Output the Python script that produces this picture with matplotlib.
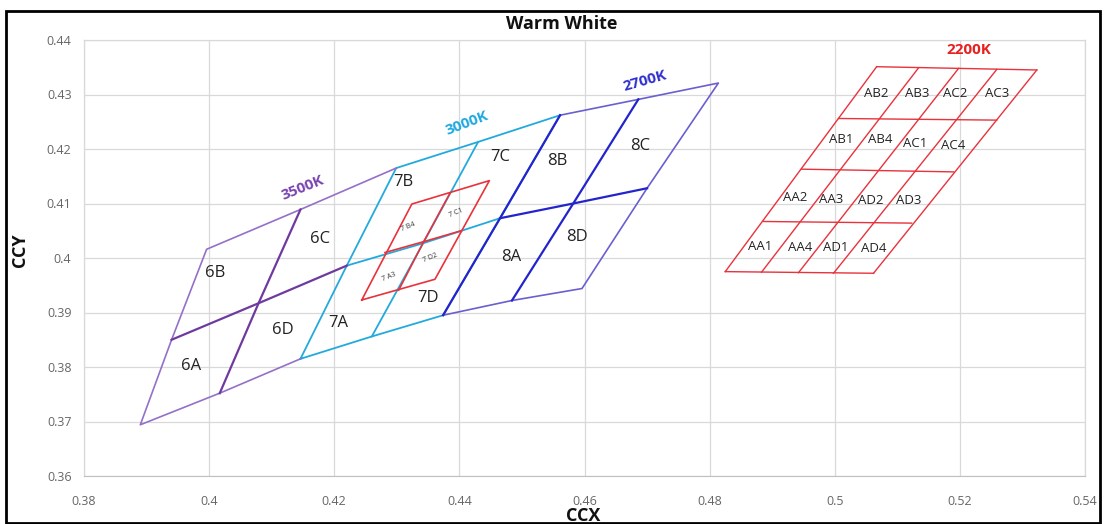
import matplotlib.pyplot as plt
import matplotlib.patches as patches

# ---- data (CIE x / y) ----
# 3500K block: outer edge (without the side shared with 3000K) and the two inner lines
k3500_edge_x = [0.4146, 0.4017, 0.3890, 0.3940, 0.3996, 0.4146, 0.4299]
k3500_edge_y = [0.3815, 0.3752, 0.3694, 0.3850, 0.4016, 0.4089, 0.4165]
k3500_h_x = [0.3940, 0.4079, 0.4220]
k3500_h_y = [0.3850, 0.3917, 0.3986]
k3500_v_x = [0.4146, 0.4079, 0.4017]
k3500_v_y = [0.4089, 0.3917, 0.3752]

# 3000K block
k3000_edge_x = [0.4146, 0.4260, 0.4374, 0.4465, 0.4561, 0.4430, 0.4299, 0.4220, 0.4146]
k3000_edge_y = [0.3815, 0.3856, 0.3895, 0.4073, 0.4262, 0.4213, 0.4165, 0.3986, 0.3815]
k3000_h_x = [0.4220, 0.4342, 0.4465]
k3000_h_y = [0.3986, 0.4027, 0.4073]
k3000_v_x = [0.4430, 0.4342, 0.4260]
k3000_v_y = [0.4213, 0.4027, 0.3856]

# 2700K block
k2700_edge_x = [0.4374, 0.4484, 0.4596, 0.4700, 0.4814, 0.4686, 0.4561]
k2700_edge_y = [0.3895, 0.3922, 0.3944, 0.4128, 0.4321, 0.4291, 0.4262]
k2700_left_x = [0.4374, 0.4465, 0.4561]
k2700_left_y = [0.3895, 0.4073, 0.4262]
k2700_h_x = [0.4465, 0.4582, 0.4700]
k2700_h_y = [0.4073, 0.4100, 0.4128]
k2700_v_x = [0.4686, 0.4582, 0.4484]
k2700_v_y = [0.4291, 0.4100, 0.3922]

# small red sub-bins inside 3000K
red7_edge_x = [0.4244, 0.4324, 0.4448, 0.4361, 0.4244]
red7_edge_y = [0.3923, 0.4099, 0.4142, 0.3961, 0.3923]
red7_h_x = [0.4281, 0.4343, 0.4403]
red7_h_y = [0.4010, 0.4030, 0.4050]
red7_v_x = [0.4385, 0.4343, 0.4303]
red7_v_y = [0.4119, 0.4030, 0.3941]

# 2200K grid: row lines (left/right ends) and slanted column lines (top/bottom ends)
k2200_row_lx = [0.5067, 0.5006, 0.4947, 0.4886, 0.4825]
k2200_row_ly = [0.4351, 0.4256, 0.4163, 0.4067, 0.3975]
k2200_row_rx = [0.5323, 0.5259, 0.5190, 0.5123, 0.5062]
k2200_row_ry = [0.4345, 0.4253, 0.4158, 0.4064, 0.3972]
k2200_col_tx = [0.5067, 0.5134, 0.5198, 0.5259, 0.5323]
k2200_col_ty = [0.4351, 0.4349, 0.4348, 0.4346, 0.4345]
k2200_col_bx = [0.4825, 0.4883, 0.4942, 0.4998, 0.5062]
k2200_col_by = [0.3975, 0.3974, 0.3973, 0.3972, 0.3972]

# bin labels
bin_names = ['6A', '6B', '6C', '6D', '7A', '7B', '7C', '7D', '8A', '8B', '8C', '8D']
bin_x = [0.3971, 0.4009, 0.4177, 0.4117, 0.4206, 0.4310, 0.4465, 0.4350, 0.4483, 0.4556, 0.4689, 0.4588]
bin_y = [0.3802, 0.3973, 0.4035, 0.3868, 0.3881, 0.4139, 0.4185, 0.3927, 0.4002, 0.4178, 0.4206, 0.4039]

sub_names = ['7 B4', '7 C1', '7 A3', '7 D2']
sub_x = [0.4318, 0.4395, 0.4288, 0.4353]
sub_y = [0.4057, 0.4083, 0.3965, 0.4000]

w22_names = ['AB2', 'AB3', 'AC2', 'AC3', 'AB1', 'AB4', 'AC1', 'AC4',
             'AA2', 'AA3', 'AD2', 'AD3', 'AA1', 'AA4', 'AD1', 'AD4']
w22_x = [0.5067, 0.5131, 0.5193, 0.5259, 0.5011, 0.5072, 0.5129, 0.5190,
         0.4937, 0.4995, 0.5058, 0.5118, 0.4881, 0.4945, 0.5001, 0.5063]
w22_y = [0.4302, 0.4302, 0.4301, 0.4301, 0.4218, 0.4217, 0.4211, 0.4207,
         0.4111, 0.4108, 0.4106, 0.4105, 0.4022, 0.4020, 0.4020, 0.4018]

cct_names = ['3500K', '3000K', '2700K', '2200K']
cct_x = [0.4150, 0.4412, 0.4697, 0.5214]
cct_y = [0.4128, 0.4247, 0.4324, 0.4382]
cct_rot = [22, 21, 16, 0]

xticks = [0.38, 0.4, 0.42, 0.44, 0.46, 0.48, 0.5, 0.52, 0.54]
yticks = [0.36, 0.37, 0.38, 0.39, 0.4, 0.41, 0.42, 0.43, 0.44]

# ---- colours ----
c3500_out = '#9470c8'
c3500_in = '#6f3a9f'
c3000 = '#22aadd'
c2700_out = '#6a5fd0'
c2700_in = '#2424cc'
cred = '#e8323c'
cct_colors = ['#7a45b0', '#1fa9e0', '#3030d0', '#e82020']

plt.rcParams['font.family'] = ['Open Sans', 'DejaVu Sans']

fig = plt.figure(figsize=(11.07, 5.24), dpi=100)
ax = fig.add_axes([84 / 1107, 48 / 524, 1001 / 1107, 436 / 524])

ax.set_xlim(0.38, 0.54)
ax.set_ylim(0.36, 0.44)
ax.set_xticks(xticks)
ax.set_yticks(yticks)
ax.set_xticklabels([f"{v:g}" for v in xticks])
ax.set_yticklabels([f"{v:g}" for v in yticks])
ax.tick_params(axis='x', length=0, pad=14, labelsize=9, colors='#666666')
ax.tick_params(axis='y', length=0, pad=9, labelsize=9, colors='#666666')
ax.grid(True, color='#d9d9d9', linewidth=0.9)
ax.set_axisbelow(True)
for side in ['top', 'right', 'left']:
    ax.spines[side].set_color('#d9d9d9')
    ax.spines[side].set_linewidth(0.9)
ax.spines['bottom'].set_color('#bfbfbf')

# 3000K first so the blue / purple lines sit on top where they meet
ax.plot(k3000_edge_x, k3000_edge_y, color=c3000, lw=1.3)
ax.plot(k3000_h_x, k3000_h_y, color=c3000, lw=1.3)
ax.plot(k3000_v_x, k3000_v_y, color=c3000, lw=1.3)

ax.plot(k3500_edge_x, k3500_edge_y, color=c3500_out, lw=1.2)
ax.plot(k3500_h_x, k3500_h_y, color=c3500_in, lw=1.6)
ax.plot(k3500_v_x, k3500_v_y, color=c3500_in, lw=1.6)

ax.plot(k2700_edge_x, k2700_edge_y, color=c2700_out, lw=1.2)
ax.plot(k2700_left_x, k2700_left_y, color=c2700_in, lw=1.6)
ax.plot(k2700_h_x, k2700_h_y, color=c2700_in, lw=1.6)
ax.plot(k2700_v_x, k2700_v_y, color=c2700_in, lw=1.6)

ax.plot(red7_edge_x, red7_edge_y, color=cred, lw=1.2)
ax.plot(red7_h_x, red7_h_y, color=cred, lw=1.2)
ax.plot(red7_v_x, red7_v_y, color=cred, lw=1.2)

for i in range(len(k2200_row_lx)):
    ax.plot([k2200_row_lx[i], k2200_row_rx[i]], [k2200_row_ly[i], k2200_row_ry[i]], color=cred, lw=1.0)
for i in range(len(k2200_col_tx)):
    ax.plot([k2200_col_tx[i], k2200_col_bx[i]], [k2200_col_ty[i], k2200_col_by[i]], color=cred, lw=1.0)

# labels
for n, x, y in zip(bin_names, bin_x, bin_y):
    ax.text(x, y, n, fontsize=12, color='#222222', ha='center', va='center')
for n, x, y in zip(sub_names, sub_x, sub_y):
    ax.text(x, y, n, fontsize=5, color='#333333', ha='center', va='center', rotation=22)
for n, x, y in zip(w22_names, w22_x, w22_y):
    ax.text(x, y, n, fontsize=9.5, color='#222222', ha='center', va='center')
for n, x, y, r, c in zip(cct_names, cct_x, cct_y, cct_rot, cct_colors):
    ax.text(x, y, n, fontsize=11, fontweight='bold', color=c, ha='center', va='center',
            rotation=r, rotation_mode='anchor')

fig.text(562 / 1107, 1 - 24 / 524, 'Warm White', fontsize=13, fontweight='bold',
         ha='center', va='center', color='#111111')
fig.text(583 / 1107, 1 - 516 / 524, 'CCX', fontsize=13, fontweight='bold',
         ha='center', va='center', color='#111111')
fig.text(20 / 1107, 1 - 250 / 524, 'CCY', fontsize=13, fontweight='bold',
         ha='center', va='center', rotation=90, color='#111111')

# black frame round the chart area
fig.patches.append(patches.Rectangle((6 / 1107, 1 / 524), 1094 / 1107, 512 / 524,
                                     transform=fig.transFigure, fill=False,
                                     edgecolor='black', linewidth=2))

fig.savefig('out.png', dpi=100)
